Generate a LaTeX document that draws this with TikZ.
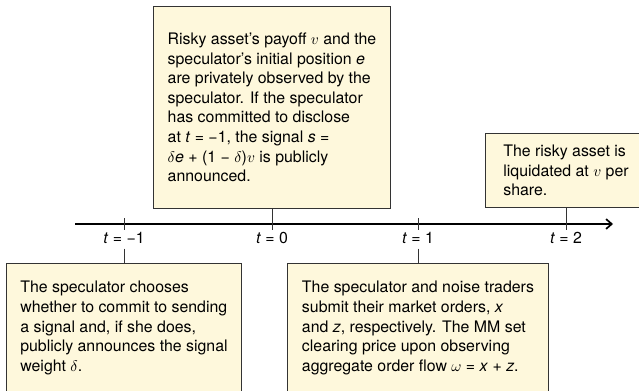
\documentclass[tikz,border=0pt]{standalone}
\usepackage{fontspec}
\setmainfont{TeX Gyre Heros}
\usetikzlibrary{arrows.meta}
\definecolor{boxfill}{HTML}{FEF8DC}
\definecolor{boxline}{HTML}{333333}
\newcommand\eventfont{\fontsize{11.3}{13.9}\selectfont}
\tikzset{
  event/.style={draw=boxline, fill=boxfill, line width=0.7pt, align=left, font=\eventfont},
  timelabel/.style={font=\eventfont},
  axis/.style={line width=1.2pt, -{Straight Barb[length=4pt,width=7pt]}},
  tick/.style={draw=boxline, line width=0.7pt}
}

\begin{document}
\begin{tikzpicture}
    \useasboundingbox (0,0) rectangle (15.975,9.75);

    % time axis
    \coordinate (start) at (1.875,4.15);
    \coordinate (end) at (15.325,4.15);
    \coordinate (tm1) at (3.1,4.15);
    \coordinate (t0) at (6.8,4.15);
    \coordinate (t1) at (10.45,4.15);
    \coordinate (t2) at (14.15,4.15);
    \draw [axis] (start) -- (end);

    \node[timelabel] (lm1) at (3.1,3.8) {\textit{t} = −1};
    \node[timelabel] (l0) at (6.8,3.8) {\textit{t} = 0};
    \node[timelabel] (l1) at (10.45,3.8) {\textit{t} = 1};
    \node[timelabel] (l2) at (14.15,3.8) {\textit{t} = 2};

    % events below the axis
    \node[event, anchor=north, minimum width=5.875cm, minimum height=3.225cm] (commit) at (3.1,3.175)
      {The speculator chooses\\ whether to commit to sending\\ a signal and, if she does,\\ publicly announces the signal\\ weight $\delta$.};
    \node[event, anchor=north, minimum width=6.525cm, minimum height=3.225cm] (orders) at (10.45,3.175)
      {The speculator and noise traders\\ submit their market orders, \textit{x}\\ and \textit{z}, respectively. The MM set\\ clearing price upon observing\\ aggregate order flow $\omega$ = \textit{x} + \textit{z}.};

    % events above the axis
    \node[event, anchor=south, minimum width=5.925cm, minimum height=5.05cm] (observe) at (6.8,4.525)
      {Risky asset's payoff $v$ and the\\ speculator's initial position \textit{e}\\ are privately observed by the\\ speculator. If the speculator\\ has committed to disclose\\ at \textit{t} = −1, the signal \textit{s} =\\ $\delta$\textit{e} + (1 − $\delta$)$v$ is publicly\\ announced.};
    \node[event, anchor=south, minimum width=4.05cm, minimum height=1.86cm] (liquid) at (14.15,4.54)
      {The risky asset is\\ liquidated at $v$ per\\ share.};

    % ticks and connectors
    \draw [tick] ([yshift=0.15cm]tm1) -- ([yshift=-0.15cm]tm1);
    \draw [tick] ([yshift=0.15cm]t1) -- ([yshift=-0.15cm]t1);
    \draw [tick] (observe.south) -- ([yshift=-0.15cm]t0);
    \draw [tick] (liquid.south) -- ([yshift=-0.15cm]t2);
    \draw [tick] (lm1.south) -- (commit.north);
    \draw [tick] (l1.south) -- (orders.north);
  \end{tikzpicture}
\end{document}
